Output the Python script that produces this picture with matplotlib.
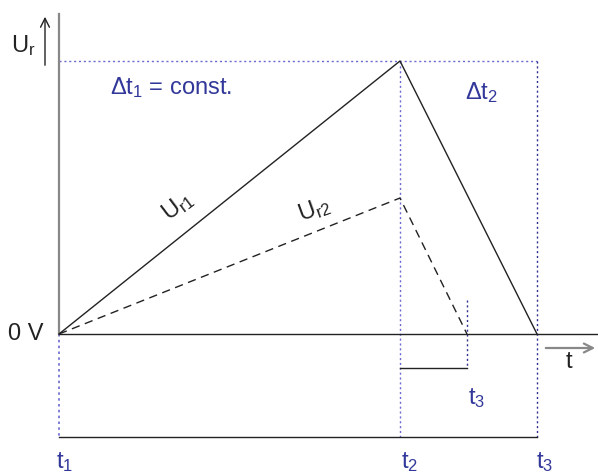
import matplotlib
matplotlib.use("Agg")
import matplotlib.pyplot as plt

plt.rcParams['font.family'] = ['Liberation Sans', 'DejaVu Sans']
plt.rcParams['mathtext.fontset'] = 'custom'
plt.rcParams['mathtext.rm'] = 'Liberation Sans'
plt.rcParams['mathtext.it'] = 'Liberation Sans'

# time markers (arbitrary units)
t1 = 0
t2 = 341
t3 = 478
t3b = 408
# voltages (arbitrary units)
U_peak1 = 273
U_peak2 = 136
U_zero = 0

ur1_t = [t1, t2, t3]
ur1_u = [U_zero, U_peak1, U_zero]
ur2_t = [t1, t2, t3b]
ur2_u = [U_zero, U_peak2, U_zero]

BLUE_TXT = '#32389a'
BLUE_DOT = '#6a6ad2'
BLUE_DOT2 = '#2e3192'

fig = plt.figure(figsize=(5.98, 4.75), dpi=100)
ax = fig.add_axes([0, 0, 1, 1])
ax.set_xlim(-59, 539)
ax.set_ylim(-141, 334)
ax.axis('off')

U_bot = -103  # bottom reference line

# y axis
ax.plot([t1, t1], [U_zero, 320], color='#888888', lw=1.6, zorder=2)
# zero line
ax.plot([t1, 539], [U_zero, U_zero], color='#222222', lw=1.0, zorder=2)
# bottom line
ax.plot([t1, t3], [U_bot, U_bot], color='#222222', lw=1.0, zorder=2)
# bracket line t2 -> t3b
ax.plot([t2, t3b], [-34, -34], color='#222222', lw=1.0, zorder=2)

# dotted guides
ax.plot([t1, t3], [U_peak1, U_peak1], color=BLUE_DOT, lw=1.0, ls=(0, (1.5, 2)), zorder=1)
ax.plot([t1, t1], [U_zero, U_bot], color=BLUE_DOT, lw=1.2, ls=(0, (1.5, 2)), zorder=1)
ax.plot([t2, t2], [U_peak1, U_bot], color=BLUE_DOT, lw=1.0, ls=(0, (1.5, 2)), zorder=1)
ax.plot([t3, t3], [U_peak1, U_bot], color=BLUE_DOT2, lw=1.0, ls=(0, (1.5, 2)), zorder=1)
ax.plot([t3b, t3b], [34, -34], color=BLUE_DOT2, lw=1.0, ls=(0, (1.5, 2)), zorder=1)

# curves
ax.plot(ur1_t, ur1_u, color='#222222', lw=1.0, zorder=3)
ax.plot(ur2_t, ur2_u, color='#222222', lw=1.0, ls=(0, (6, 4)), zorder=3)

# arrows
ax.annotate('', xy=(-14, 320), xytext=(-14, 266),
            arrowprops=dict(arrowstyle='->', color='#222222', lw=1.0, mutation_scale=16))
ax.annotate('', xy=(539, -14), xytext=(484, -14),
            arrowprops=dict(arrowstyle='->', color='#888888', lw=1.6, mutation_scale=16))

fs = 17
ax.text(-36, 288, r'$\mathregular{U_r}$', fontsize=fs, ha='center', va='center', color='#222222')
ax.text(-33, U_zero, '0 V', fontsize=fs, ha='center', va='center', color='#222222')
ax.text(112, 246, r'$\mathregular{\Delta t_1}$ = const.', fontsize=fs, ha='center', va='center', color=BLUE_TXT)
ax.text(422, 241, r'$\mathregular{\Delta t_2}$', fontsize=fs, ha='center', va='center', color=BLUE_TXT)
ax.text(119, 128, r'$\mathregular{U_{r1}}$', fontsize=fs, ha='center', va='center', color='#222222', rotation=37)
ax.text(255, 124, r'$\mathregular{U_{r2}}$', fontsize=fs, ha='center', va='center', color='#222222', rotation=20)
ax.text(510, -28, 't', fontsize=fs, ha='center', va='center', color='#222222')
ax.text(t3b + 10, -64, r'$\mathregular{t_3}$', fontsize=fs, ha='center', va='center', color=BLUE_TXT)
ax.text(t1 + 6, -128, r'$\mathregular{t_1}$', fontsize=fs, ha='center', va='center', color=BLUE_TXT)
ax.text(t2 + 10, -128, r'$\mathregular{t_2}$', fontsize=fs, ha='center', va='center', color=BLUE_TXT)
ax.text(t3 + 8, -128, r'$\mathregular{t_3}$', fontsize=fs, ha='center', va='center', color=BLUE_TXT)

fig.savefig('out.png', dpi=100)
